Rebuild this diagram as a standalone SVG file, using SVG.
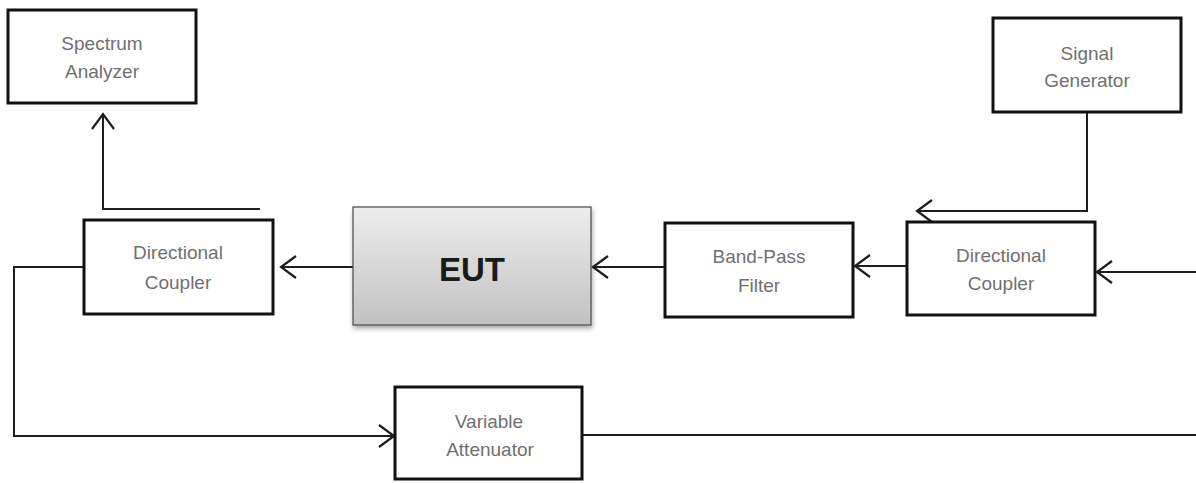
<svg xmlns="http://www.w3.org/2000/svg" width="1196" height="483" viewBox="0 0 1196 483">
<style>
.box{fill:#fff;stroke:#111;stroke-width:3}
.lbl{font-family:"Liberation Sans",Arial,sans-serif;font-size:19px;fill:#707070;text-anchor:middle}
.eut{font-family:"Liberation Sans",Arial,sans-serif;font-size:33px;font-weight:bold;fill:#1a1a1a;text-anchor:middle}
.con{fill:none;stroke:#1e1e1e;stroke-width:2}
</style>
<defs>
<marker id="arr" markerUnits="userSpaceOnUse" markerWidth="24" markerHeight="28" viewBox="-20 -14 24 28" refX="0" refY="0" orient="auto">
<path d="M-15,-11 L0,0 L-15,11" fill="none" stroke="#1e1e1e" stroke-width="2.2"/>
</marker>
<linearGradient id="g" x1="0" y1="0" x2="0" y2="1">
<stop offset="0" stop-color="#ededed"/>
<stop offset="1" stop-color="#c2c2c2"/>
</linearGradient>
<filter id="sh" x="-10%" y="-10%" width="125%" height="130%">
<feGaussianBlur in="SourceAlpha" stdDeviation="2.5"/>
<feOffset dx="1" dy="3" result="b"/>
<feComponentTransfer><feFuncA type="linear" slope="0.35"/></feComponentTransfer>
<feMerge><feMergeNode/><feMergeNode in="SourceGraphic"/></feMerge>
</filter>
</defs>
<g id="connectors">
<polyline class="con" points="260,209 103,209 103,114" marker-end="url(#arr)"/>
<line class="con" x1="353" y1="267" x2="281" y2="267" marker-end="url(#arr)"/>
<line class="con" x1="665" y1="267" x2="593" y2="267" marker-end="url(#arr)"/>
<line class="con" x1="907" y1="266" x2="855" y2="266" marker-end="url(#arr)"/>
<line class="con" x1="1196" y1="272" x2="1097" y2="272" marker-end="url(#arr)"/>
<polyline class="con" points="1087,112 1087,211 917,211" marker-end="url(#arr)"/>
<polyline class="con" points="84,267 14,267 14,436 394,436" marker-end="url(#arr)"/>
<line class="con" x1="583" y1="435" x2="1196" y2="435"/>
</g>
<g id="spectrum-analyzer">
<rect class="box" x="8" y="10" width="188" height="93"/>
<text class="lbl" x="102" y="50">Spectrum</text>
<text class="lbl" x="102" y="78">Analyzer</text>
</g>
<g id="directional-coupler-left">
<rect class="box" x="84" y="220" width="189" height="94"/>
<text class="lbl" x="178" y="259">Directional</text>
<text class="lbl" x="178" y="289">Coupler</text>
</g>
<g id="eut">
<rect x="353" y="207" width="238" height="118" fill="url(#g)" stroke="#4a4a4a" stroke-width="1.2" filter="url(#sh)"/>
<text class="eut" x="472" y="281">EUT</text>
</g>
<g id="band-pass-filter">
<rect class="box" x="665" y="223" width="188" height="94"/>
<text class="lbl" x="759" y="263">Band-Pass</text>
<text class="lbl" x="759" y="292">Filter</text>
</g>
<g id="directional-coupler-right">
<rect class="box" x="907" y="222" width="188" height="93"/>
<text class="lbl" x="1001" y="262">Directional</text>
<text class="lbl" x="1001" y="290">Coupler</text>
</g>
<g id="signal-generator">
<rect class="box" x="993" y="18" width="188" height="94"/>
<text class="lbl" x="1087" y="60">Signal</text>
<text class="lbl" x="1087" y="87">Generator</text>
</g>
<g id="variable-attenuator">
<rect class="box" x="395" y="387" width="187" height="92"/>
<text class="lbl" x="489" y="428">Variable</text>
<text class="lbl" x="490" y="456">Attenuator</text>
</g>
</svg>
